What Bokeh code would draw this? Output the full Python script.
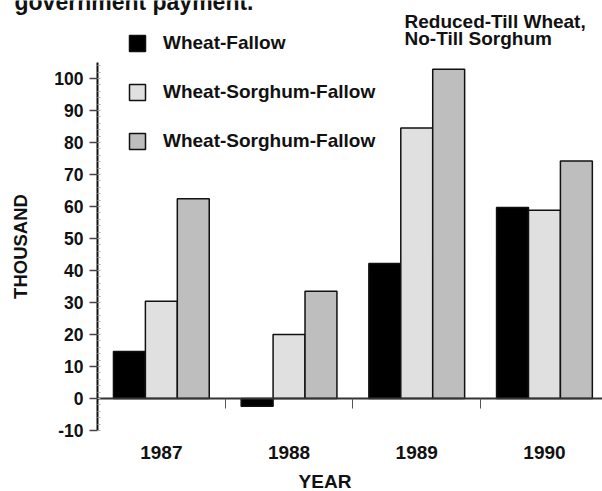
from bokeh.plotting import figure
from bokeh.models import (Range1d, Label, Legend, LegendItem, FixedTicker, LinearAxis, Grid,
                          SingleIntervalTicker, ColumnDataSource, CustomJSTickFormatter)
from bokeh.embed import file_html
from bokeh.resources import INLINE

# ---------------- data ----------------
years = ["1987", "1988", "1989", "1990"]
wheat_fallow = [14.7, -2.4, 42.2, 59.7]
wheat_sorghum_fallow = [30.4, 20.0, 84.5, 58.8]
wheat_sorghum_fallow_reduced = [62.4, 33.5, 102.9, 74.2]
series_labels = ["Wheat-Fallow", "Wheat-Sorghum-Fallow", "Wheat-Sorghum-Fallow"]
series_colors = ["#000000", "#e0e0e0", "#bebebe"]
y_min, y_max, y_step = -10, 105, 10
title_text = "government payment."
note_lines = ["Reduced-Till Wheat,", "No-Till Sorghum"]
y_label = "THOUSAND"
x_label = "YEAR"

# ---------------- layout constants (pixels) ----------------
W, H = 602, 491
AXIS_X = 97          # pixel column of the y axis (x = 0)
ZERO_PX = 430        # pixel row of y = y_min
CAT_PX = 127.7       # pixels per year category
PX_PER_UNIT = 3.2    # pixels per thousand
BAR_W = 0.25
FONT = "Liberation Sans"
INK = "#111111"


def px_x(px):
    return (px - AXIS_X) / CAT_PX


def px_y(py):
    return y_min + (ZERO_PX - py) / PX_PER_UNIT


p = figure(width=W, height=H, output_backend="svg", toolbar_location=None,
           x_range=Range1d(px_x(0), px_x(W)), y_range=Range1d(px_y(H), px_y(0)),
           x_axis_location=None, y_axis_location=None,
           min_border=0)
p.center = [c for c in p.center if not isinstance(c, Grid)]
p.outline_line_color = None
p.background_fill_color = "white"
p.border_fill_color = "white"

# ---------------- bars ----------------
renderers = []
for k, (vals, color) in enumerate(zip(
        [wheat_fallow, wheat_sorghum_fallow, wheat_sorghum_fallow_reduced], series_colors)):
    xs = [i + 0.5 + (k - 1) * BAR_W for i in range(len(years))]
    src = ColumnDataSource(dict(x=xs, top=vals))
    r = p.vbar(x="x", top="top", bottom=0, width=BAR_W, source=src,
               fill_color=color, line_color=INK, line_width=1.5)
    renderers.append(r)

# ---------------- y axis ----------------
ya = LinearAxis(fixed_location=0, bounds=(y_min, y_max),
                ticker=SingleIntervalTicker(interval=y_step, num_minor_ticks=5),
                formatter=CustomJSTickFormatter(code="return tick.toFixed(0)"))
ya.axis_line_color = INK
ya.axis_line_width = 2
ya.major_tick_out = 8
ya.major_tick_in = 0
ya.major_tick_line_color = "#444444"
ya.major_tick_line_width = 1.5
ya.minor_tick_in = 3
ya.minor_tick_out = 0
ya.minor_tick_line_color = "#aaaaaa"
ya.major_label_standoff = 6
ya.major_label_text_font = FONT
ya.major_label_text_font_style = "bold"
ya.major_label_text_font_size = "17.5px"
ya.major_label_text_color = INK
ya.axis_label = y_label
ya.axis_label_text_font = FONT
ya.axis_label_text_font_style = "bold"
ya.axis_label_text_font_size = "18.5px"
ya.axis_label_text_color = INK
ya.axis_label_standoff = 20
p.add_layout(ya, "left")

# ---------------- zero line with category separators ----------------
za = LinearAxis(fixed_location=0, bounds=(0, len(years)),
                ticker=FixedTicker(ticks=list(range(1, len(years) + 1)), minor_ticks=[]))
za.axis_line_color = "#333333"
za.axis_line_width = 2
za.major_tick_out = 10
za.major_tick_in = 0
za.major_tick_line_color = "#555555"
za.major_tick_line_width = 1
za.minor_tick_line_color = None
za.major_label_text_color = None
p.add_layout(za, "below")

# ---------------- year labels ----------------
xa = LinearAxis(fixed_location=y_min,
                ticker=FixedTicker(ticks=[i + 0.5 for i in range(len(years))], minor_ticks=[]),
                formatter=CustomJSTickFormatter(args=dict(labels=years),
                                                code="return labels[Math.floor(tick)] || ''"))
xa.axis_line_color = None
xa.major_tick_line_color = None
xa.minor_tick_line_color = None
xa.major_tick_out = 0
xa.major_tick_in = 0
xa.major_label_standoff = 15
xa.major_label_text_font = FONT
xa.major_label_text_font_style = "bold"
xa.major_label_text_font_size = "19px"
xa.major_label_text_color = INK
p.add_layout(xa, "below")

# ---------------- texts (y = vertical middle of the letters) ----------------
def add_text(txt, page_x, page_y, size, align="left"):
    p.add_layout(Label(x=px_x(page_x), y=px_y(page_y), text=txt,
                       text_font=FONT, text_font_style="bold", text_font_size=size,
                       text_color=INK, text_align=align, text_baseline="middle"))

add_text(title_text, 14, 1.5, "23px")
add_text(note_lines[0], 404, 20.8, "19px")
add_text(note_lines[1], 404, 38.4, "19px")
add_text(x_label, 324.5, 481, "19px", align="center")

# ---------------- legend ----------------
legend = Legend(items=[LegendItem(label=lab, renderers=[r])
                       for lab, r in zip(series_labels, renderers)],
                location=(127, 339), orientation="vertical",
                padding=0, margin=0, spacing=27,
                glyph_width=20, glyph_height=20, label_height=20, label_standoff=16,
                label_text_font=FONT, label_text_font_style="bold",
                label_text_font_size="19px", label_text_color=INK,
                label_text_baseline="middle",
                border_line_color=None, background_fill_alpha=0)
p.add_layout(legend)

open("out.html", "w").write(file_html(p, INLINE))
